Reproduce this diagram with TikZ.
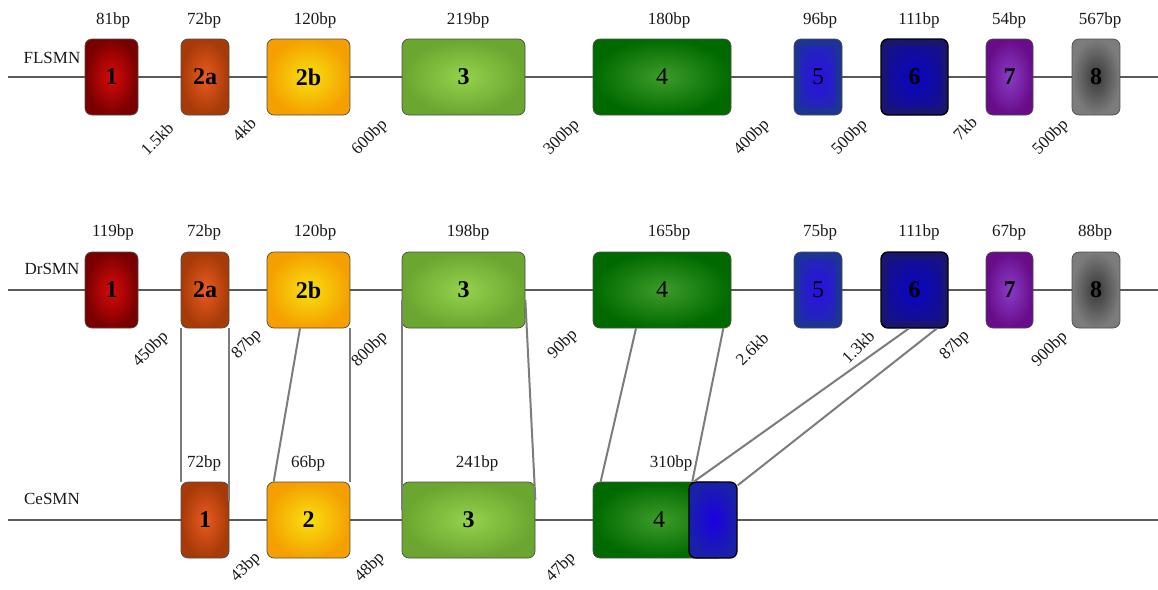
\documentclass[tikz,border=0pt]{standalone}
\usepackage{fontspec}
\setmainfont{Liberation Serif}
\definecolor{rAo}{HTML}{7A0000}\definecolor{rAi}{HTML}{D80A0A}
\definecolor{rBo}{HTML}{A63A08}\definecolor{rBi}{HTML}{EA5A20}
\definecolor{rCo}{HTML}{F5A000}\definecolor{rCi}{HTML}{F8E010}
\definecolor{rDo}{HTML}{6AA630}\definecolor{rDi}{HTML}{94D24C}
\definecolor{rEo}{HTML}{006A00}\definecolor{rEi}{HTML}{3E9C2A}
\definecolor{rFo}{HTML}{1E3494}\definecolor{rFi}{HTML}{2A10E6}
\definecolor{rGo}{HTML}{1A1670}\definecolor{rGi}{HTML}{0A04C4}
\definecolor{rHo}{HTML}{680C88}\definecolor{rHi}{HTML}{8A3CC8}
\definecolor{rIo}{HTML}{7C7C7C}\definecolor{rIi}{HTML}{383838}
\definecolor{rJo}{HTML}{1A20A8}\definecolor{rJi}{HTML}{1C00E4}
\definecolor{linkgray}{HTML}{7C7C7C}
\definecolor{backbone}{HTML}{5A5A5A}
\begin{document}
\begin{tikzpicture}[x=1pt,y=-1pt,
  ex/.style={draw=black!70, line width=0.7pt, rounded corners=7pt, minimum height=76pt,
     inner sep=0pt, text=black, font=\fontsize{24}{24}\selectfont\bfseries},
  exr/.style={ex, font=\fontsize{24}{24}\selectfont},
  rad/.style 2 args={shading=radial, inner color=#1, outer color=#2},
  rect/.style 2 args={fill=#2, path picture={
     \shade[inner color=#1, outer color=#2!70!#1, rounded corners=4pt]
       ([shift={(6pt,7pt)}]path picture bounding box.south west) rectangle
       ([shift={(-6pt,-7pt)}]path picture bounding box.north east);}},
  bp/.style={font=\fontsize{17}{17}\selectfont, text=black!90, inner sep=0pt},
  gap/.style={bp, rotate=45},
  rowname/.style={font=\fontsize{17}{17}\selectfont, text=black!90, inner sep=0pt},
  bb/.style={draw=backbone, line width=1.2pt},
  link/.style={draw=linkgray, line width=2pt}
]
\useasboundingbox (0,0) rectangle (1158,589);

% backbones
\coordinate (fs) at (8,77);  \coordinate (fe) at (1158,77);
\coordinate (ds) at (8,290); \coordinate (de) at (1158,290);
\coordinate (cs) at (8,520); \coordinate (ce) at (1158,520);
\draw[bb] (fs) -- (fe);
\draw[bb] (ds) -- (de);
\draw[bb] (cs) -- (ce);

\node[rowname] (nf) at (52,58) {FLSMN};
\node[rowname] (nd) at (52,269) {DrSMN};
\node[rowname] (nc) at (52,499) {CeSMN};

% ---------- FLSMN ----------
\node[ex, rad={rAi}{rAo}, minimum width=53pt] (f1)  at (111.5,77) {1};
\node[ex, rad={rBi}{rBo}, minimum width=48pt] (f2a) at (205,77) {2a};
\node[ex, rad={rCi}{rCo}, minimum width=83pt] (f2b) at (308.5,77) {2b};
\node[ex, rad={rDi}{rDo}, minimum width=123pt] (f3) at (463.5,77) {3};
\node[exr, rad={rEi}{rEo}, minimum width=138pt] (f4) at (662,77) {4};
\node[exr, rect={rFi}{rFo}, minimum width=48pt] (f5) at (818,77) {5};
\node[ex, rect={rGi}{rGo}, draw=black, line width=1.4pt, minimum width=67pt] (f6) at (914.5,77) {6};
\node[ex, rad={rHi}{rHo}, minimum width=47pt] (f7) at (1009.5,77) {7};
\node[ex, rad={rIi}{rIo}, minimum width=48pt] (f8) at (1096,77) {8};

\node[bp] (lf1) at (113,20) {81bp};
\node[bp] (lf2) at (204,20) {72bp};
\node[bp] (lf3) at (315,20) {120bp};
\node[bp] (lf4) at (468,20) {219bp};
\node[bp] (lf5) at (669,20) {180bp};
\node[bp] (lf6) at (820,20) {96bp};
\node[bp] (lf7) at (919,20) {111bp};
\node[bp] (lf8) at (1009,20) {54bp};
\node[bp] (lf9) at (1100,20) {567bp};

\node[gap] (gf1) at (157,139) {1.5kb};
\node[gap] (gf2) at (244,129) {4kb};
\node[gap] (gf3) at (370,138) {600bp};
\node[gap] (gf4) at (562,138) {300bp};
\node[gap] (gf5) at (752,138) {400bp};
\node[gap] (gf6) at (850,138) {500bp};
\node[gap] (gf7) at (965,128) {7kb};
\node[gap] (gf8) at (1051,138) {500bp};

% ---------- DrSMN ----------
\node[ex, rad={rAi}{rAo}, minimum width=53pt] (d1)  at (111.5,290) {1};
\node[ex, rad={rBi}{rBo}, minimum width=48pt] (d2a) at (205,290) {2a};
\node[ex, rad={rCi}{rCo}, minimum width=83pt] (d2b) at (308.5,290) {2b};
\node[ex, rad={rDi}{rDo}, minimum width=123pt] (d3) at (463.5,290) {3};
\node[exr, rad={rEi}{rEo}, minimum width=138pt] (d4) at (662,290) {4};
\node[exr, rect={rFi}{rFo}, minimum width=48pt] (d5) at (818,290) {5};
\node[ex, rect={rGi}{rGo}, draw=black, line width=1.4pt, minimum width=67pt] (d6) at (914.5,290) {6};
\node[ex, rad={rHi}{rHo}, minimum width=47pt] (d7) at (1009.5,290) {7};
\node[ex, rad={rIi}{rIo}, minimum width=48pt] (d8) at (1096,290) {8};

\node[bp] (ld1) at (113,232) {119bp};
\node[bp] (ld2) at (204,232) {72bp};
\node[bp] (ld3) at (315,232) {120bp};
\node[bp] (ld4) at (468,232) {198bp};
\node[bp] (ld5) at (669,232) {165bp};
\node[bp] (ld6) at (820,232) {75bp};
\node[bp] (ld7) at (919,232) {111bp};
\node[bp] (ld8) at (1009,232) {67bp};
\node[bp] (ld9) at (1095,232) {88bp};

\node[gap] (gd1) at (151,350) {450bp};
\node[gap] (gd2) at (247,345) {87bp};
\node[gap] (gd3) at (370,350) {800bp};
\node[gap] (gd4) at (563,345) {90bp};
\node[gap] (gd5) at (752,349) {2.6kb};
\node[gap] (gd6) at (858,347) {1.3kb};
\node[gap] (gd7) at (955,346) {87bp};
\node[gap] (gd8) at (1050,350) {900bp};

% ---------- CeSMN ----------
\node[ex, rad={rBi}{rBo}, minimum width=48pt] (c1) at (205,520) {1};
\node[ex, rad={rCi}{rCo}, minimum width=83pt] (c2) at (308.5,520) {2};
\node[ex, rad={rDi}{rDo}, minimum width=133pt] (c3) at (468.5,520) {3};
\node[exr, rad={rEi}{rEo}, minimum width=132pt] (c4) at (659,520) {4};
\node[ex, rad={rJi}{rJo}, draw=black, line width=1.4pt, minimum width=48pt] (c4b) at (713,520) {};

\node[bp] (lc1) at (204,463) {72bp};
\node[bp] (lc2) at (308,463) {66bp};
\node[bp] (lc3) at (477,463) {241bp};
\node[bp] (lc4) at (671,463) {310bp};

\node[gap] (gc1) at (246,568) {43bp};
\node[gap] (gc2) at (370,568) {48bp};
\node[gap] (gc3) at (561,568) {47bp};

% ---------- homology links ----------
\draw[link] (d2a.south west) -- (c1.north west);
\draw[link] (d2a.south east) -- ([yshift=-19pt]c1.north east);
\draw[link] ([xshift=-8.5pt]d2b.south) -- ([xshift=7pt]c2.north west);
\draw[link] (d2b.south east) -- (c2.north east);
\draw[link] ([yshift=-10pt]d3.west) -- ([yshift=10pt]c3.west);
\draw[link] ([yshift=-10pt]d3.east) -- ([yshift=20pt]c3.east);
\draw[link] ([xshift=-26pt]d4.south) -- ([xshift=8pt]c4.north west);
\draw[link] ([xshift=-8pt]d4.south east) -- ([xshift=4pt]c4b.north west);
\draw[link] ([xshift=-6pt]d6.south) -- ([xshift=6pt]c4b.north west);
\draw[link] ([xshift=22pt]d6.south) -- ([yshift=-4pt]c4b.north east);
\end{tikzpicture}
\end{document}
